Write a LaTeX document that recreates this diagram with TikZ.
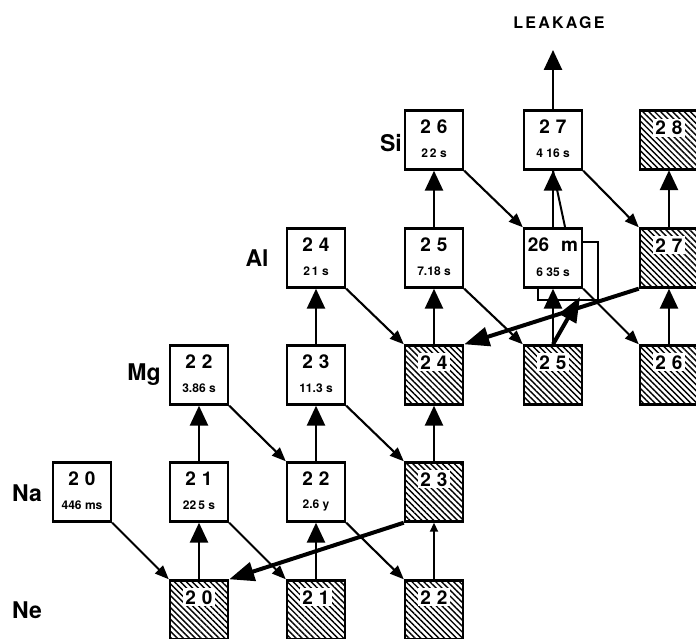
\documentclass[tikz,border=0pt]{standalone}
\usepackage{fontspec}
\setmainfont{TeX Gyre Heros}
\usetikzlibrary{arrows.meta,patterns.meta,calc}
\tikzset{
  box/.style={draw, line width=2.4pt, minimum width=58pt, minimum height=59pt, inner sep=0pt, fill=white},
  stablebox/.style={draw, line width=2.4pt, minimum width=58pt, minimum height=59pt, inner sep=0pt,
     preaction={fill=white}, pattern={Lines[angle=-45,distance=4.2pt,line width=1.4pt]}},
  num/.style={font=\bfseries\fontsize{19}{19}\selectfont, inner sep=2pt},
  hl/.style={font=\bfseries\fontsize{12}{12}\selectfont, inner sep=0pt},
  elem/.style={font=\bfseries\fontsize{23}{23}\selectfont, inner sep=0pt},
  leakstyle/.style={font=\bfseries\fontsize{16}{16}\selectfont\addfontfeature{LetterSpace=14}, inner sep=0pt},
  up/.style={line width=2.6pt, -{Triangle[length=20pt,width=18pt]}},
  smallup/.style={line width=1.8pt, -{Triangle[length=9pt,width=8pt]}},
  beta/.style={line width=2.1pt, -{Triangle[length=14pt,width=11pt]}},
  pa/.style={line width=4pt, -{Triangle[length=25pt,width=19pt]}},
}
\newcommand{\twodig}[2]{#1\hspace{6pt}#2}
\newcommand{\isoU}[5]{%
  \node[box] (#1) at (#2,#3) {};
  \node[num] (#1n) at ($(#1.north)+(0,-17)$) {#4};
  \node[hl] (#1h) at ($(#1.north)+(0,-44)$) {#5};
}
\newcommand{\isoS}[4]{%
  \node[stablebox] (#1) at (#2,#3) {};
  \node[num, fill=white] (#1n) at ($(#1.north)+(0,-18)$) {#4};
}
\begin{document}
\begin{tikzpicture}[x=1pt,y=1pt]
\useasboundingbox (0,0) rectangle (696,639);
% element labels
\node[elem] (lsi) at (391,496) {Si};
\node[elem] (lal) at (257,381) {Al};
\node[elem] (lmg) at (144,264) {Mg};
\node[elem] (lna) at (27,146) {Na};
\node[elem] (lne) at (27,29) {Ne};
\node[leakstyle] (leak) at (559,616) {LEAKAGE};
\coordinate (leaktip) at (553,589);
% Si row
\isoU{si26}{434}{499}{\twodig26}{2\,2 s}
\isoU{si27}{553}{499}{\twodig27}{4 16 s}
\isoS{si28}{669}{499}{\twodig28}
% Al row
\isoU{al24}{316}{381}{\twodig24}{2\,1 s}
\isoU{al25}{434}{381}{\twodig25}{7.18 s}
\node[draw, line width=2pt, minimum width=60pt, minimum height=58pt, inner sep=0pt] (al26g) at (568,368) {};
\draw[line width=2pt] (al26g.north) -- (si27.south);
\node[box] (al26m) at (553,381) {};
\node[num] (al26mn) at ($(al26m.north)+(0,-17)$) {26\hspace{12pt}m};
\node[hl] (al26mh) at ($(al26m.north)+(0,-45)$) {6 35 s};
\isoS{al27}{669}{381}{\twodig27}
% Mg row
\isoU{mg22}{199}{264}{\twodig22}{3.86 s}
\isoU{mg23}{316}{264}{\twodig23}{11.3 s}
\isoS{mg24}{434}{264}{\twodig24}
\isoS{mg25}{553}{264}{\twodig25}
\isoS{mg26}{669}{264}{\twodig26}
% Na row
\isoU{na20}{82}{147}{\twodig20}{446 ms}
\isoU{na21}{199}{147}{\twodig21}{22\,5 s}
\isoU{na22}{316}{147}{\twodig22}{2.6 y}
\isoS{na23}{434}{147}{\twodig23}
% Ne row
\isoS{ne20}{199}{29}{\twodig20}
\isoS{ne21}{316}{29}{\twodig21}
\isoS{ne22}{434}{29}{\twodig22}
% proton captures
\draw[up] (ne20.north) -- (na21.south);
\draw[up] (na21.north) -- (mg22.south);
\draw[up] (ne21.north) -- (na22.south);
\draw[up] (na22.north) -- (mg23.south);
\draw[up] (mg23.north) -- (al24.south);
\draw[smallup] (ne22.north) -- (na23.south);
\draw[up] (na23.north) -- (mg24.south);
\draw[up] (mg24.north) -- (al25.south);
\draw[up] (al25.north) -- (si26.south);
\draw[up] (mg25.north) -- (al26m.south);
\draw[up] (al26m.north) -- (si27.south);
\draw[up] (si27.north) -- (leaktip);
\draw[up] (mg26.north) -- (al27.south);
\draw[up] (al27.north) -- (si28.south);
\draw[pa] (mg25.north) -- ($(al26g.south)+(12,4)$);
% beta decays
\draw[beta] (na20.south east) -- (ne20.north west);
\draw[beta] (na21.south east) -- (ne21.north west);
\draw[beta] (mg22.south east) -- (na22.north west);
\draw[beta] (na22.south east) -- (ne22.north west);
\draw[beta] (mg23.south east) -- (na23.north west);
\draw[beta] (al24.south east) -- (mg24.north west);
\draw[beta] (al25.south east) -- (mg25.north west);
\draw[beta] (si26.south east) -- (al26m.north west);
\draw[beta] (si27.south east) -- (al27.north west);
\draw[beta] (al26m.south east) -- (mg26.north west);
% (p,alpha) cycle closures
\draw[pa] (na23.south west) -- (ne20.north east);
\draw[pa] (al27.south west) -- (mg24.north east);
\end{tikzpicture}
\end{document}
